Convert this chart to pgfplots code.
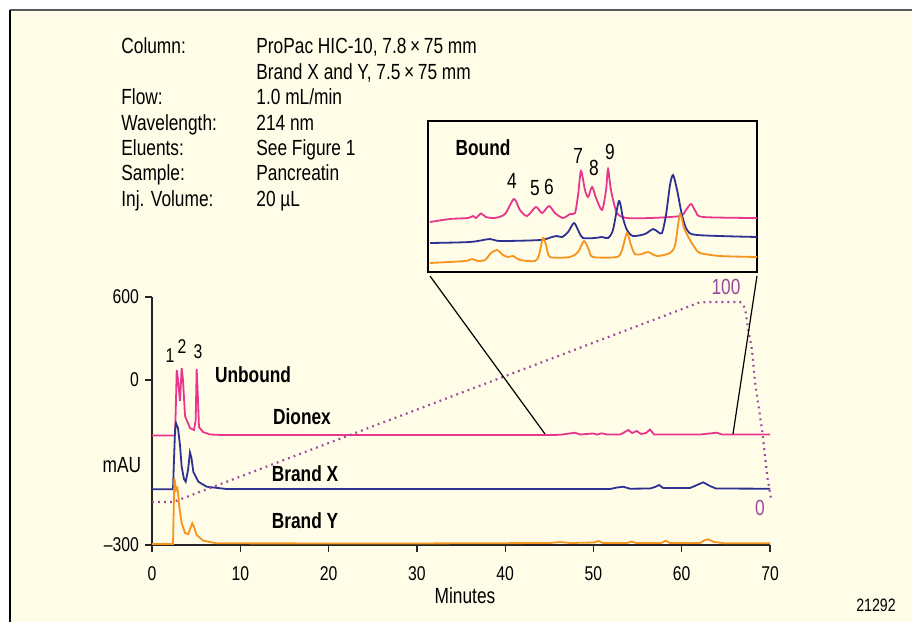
\documentclass[border=0pt]{standalone}
\usepackage{fontspec}
\setmainfont{Liberation Sans}[FakeStretch=0.79]
\usepackage{pgfplots}
\pgfplotsset{compat=1.18}
\definecolor{cream}{HTML}{FFFDE8}
\definecolor{dpink}{HTML}{E8368C}
\definecolor{dblue}{HTML}{2E3192}
\definecolor{dorange}{HTML}{F7941D}
\definecolor{dpurple}{HTML}{9B4A9E}
\newcommand\fs[1]{\fontsize{#1}{#1}\selectfont}
\begin{document}
\begin{tikzpicture}
\begin{scope}[x=0.5bp,y=-0.5bp]
\useasboundingbox (0,0) rectangle (912,622);
\fill[white] (0,0) rectangle (912,622);
\fill[cream] (10,10) rectangle (912,622);
\draw[black!65, line width=1bp] (10,10) -- (912,10);
\draw[black, line width=1bp] (10,10) -- (10,622);
\begin{scope}[every node/.style={inner sep=0pt, anchor=base west, font=\fs{11}}]
\node at (121,54) {Column:};
\node at (256,54) {ProPac HIC-10, 7.8\,×\,75 mm};
\node at (256,80) {Brand X and Y, 7.5\,×\,75 mm};
\node at (121,105) {Flow:};
\node at (256,105) {1.0 mL/min};
\node at (121,130.7) {Wavelength:};
\node at (256,130.7) {214 nm};
\node at (121,155.7) {Eluents:};
\node at (256,155.7) {See Figure 1};
\node at (121,181) {Sample:};
\node at (256,181) {Pancreatin};
\node at (121,206.7) {Inj. Volume:};
\node at (256,206.7) {20 µL};
\end{scope}
\node[font=\fs{9}, inner sep=0pt] at (876,605) {21292};
\end{scope}

% main chromatogram
\begin{axis}[
  at={(76bp,-272.5bp)}, anchor=south west,
  x=4.41429bp, y=0.5bp,
  xmin=0, xmax=70, ymin=0, ymax=248,
  axis x line*=bottom, axis y line*=left,
  axis line style={line width=0.65bp, black!85},
  tick style={line width=0.65bp, black!85},
  major tick length=3.5bp, tick align=outside,
  xtick={0,10,...,70},
  ytick={0,165,248}, yticklabels={–300,0,600},
  /pgf/number format/assume math mode=true,
  ticklabel style={font=\fs{10}},
  xticklabel style={yshift=-4bp},
  yticklabel style={xshift=0.5bp},
  clip=false,
  xlabel={Minutes},
  xlabel style={font=\fs{11}, at={(axis description cs:0.5,0)}, anchor=base, yshift=-29bp, xshift=2bp},
]
% Dionex
\addplot[dpink, line width=0.9bp] coordinates {
(0,109.5) (2.61,109.5) (2.72,145) (2.80,175) (2.95,165) (3.17,144) (3.36,177) (3.51,165)
(3.74,129) (4.30,117) (4.76,115) (4.95,125) (5.06,176) (5.21,145) (5.32,118) (5.78,113)
(6.57,110.5) (8.04,110) (44.5,110) (46.21,110.2) (47.91,112.3) (48.48,110.5) (49.95,111.5)
(50.41,110.5) (50.94,111.7) (51.54,110.5) (53.01,110.5) (53.57,113) (53.95,115) (54.37,112)
(54.90,114) (55.39,111) (55.95,112) (56.41,115.5) (56.86,110.5) (62.07,110.5) (63.96,112.3)
(64.56,110.5) (70,110.5)};
% Brand X
\addplot[dblue, line width=0.9bp] coordinates {
(0,55.7) (2.38,55.7) (2.49,85) (2.61,115) (2.72,121.7) (2.94,117) (3.17,100) (3.36,78.3)
(3.62,66) (3.82,63.3) (4.08,75) (4.30,92.7) (4.47,87) (4.68,73.3) (5.24,63.3) (6.20,58.3)
(8.46,56) (28.09,56) (51.88,56) (52.67,57.5) (53.38,58.3) (54.14,56.3) (56.41,56.5)
(56.98,58) (57.43,60) (57.89,57) (60.94,57) (61.73,60) (62.44,62.7) (63.20,59) (63.88,56.5)
(70,56.3)};
% Brand Y
\addplot[dorange, line width=0.9bp] coordinates {
(0,1) (2.38,1) (2.46,35) (2.53,66.7) (2.64,61) (2.72,55) (2.87,57) (2.98,50) (3.09,38.3)
(3.36,22) (3.74,12) (4.11,11) (4.36,17) (4.56,21.7) (4.76,18) (5.06,10) (5.81,4.3)
(7.33,1.7) (28.09,1.5) (45.08,2) (46.21,3) (47.35,2) (50.06,2.5) (50.55,4) (51.08,2)
(53.80,2) (54.33,3.5) (54.82,2) (57.65,2) (58.18,4.3) (58.67,2) (62.07,2) (62.64,5)
(63.01,5.7) (63.66,3) (64.90,1.7) (70,1.7)};
% gradient
\addplot[dpurple, line width=1.1bp, dash pattern=on 0.9bp off 2.1bp] coordinates {
(0,43) (2.4,43) (60.8,238.5) (61.8,242) (62.8,243) (66.6,243) (67.0,240) (67.2,235)
(67.5,217) (67.96,195) (68.3,163) (69.1,115) (69.7,68) (70.1,47)};
\node[font=\fs{10}] at (axis cs:2.04,189) {1};
\node[font=\fs{10}] at (axis cs:3.40,198) {2};
\node[font=\fs{10}] at (axis cs:5.21,193) {3};
\node[font=\fs{11}\bfseries] at (axis cs:11.44,170) {Unbound};
\node[font=\fs{11}\bfseries] at (axis cs:16.99,128) {Dionex};
\node[font=\fs{11}\bfseries] at (axis cs:17.33,71) {Brand X};
\node[font=\fs{11}\bfseries] at (axis cs:17.33,24) {Brand Y};
\node[font=\fs{11}] at (axis cs:-3.40,80) {mAU};
\node[font=\fs{11}, text=dpurple] at (axis cs:65.01,258) {100};
\node[font=\fs{11}, text=dpurple] at (axis cs:68.86,37) {0};
\end{axis}

% inset
\begin{axis}[
  at={(214bp,-136bp)}, anchor=south west,
  x=7.6869bp, y=0.5bp,
  xmin=44.4, xmax=65.8, ymin=0, ymax=151,
  xtick=\empty, ytick=\empty,
  axis line style={line width=0.65bp, black},
  clip=false,
  every axis plot/.append style={smooth, tension=0.45, line width=0.9bp},
]
\addplot[dpink] coordinates {
(44.53,50) (45.83,53) (47.0,54) (47.33,56) (47.52,54) (47.85,58.5) (48.17,55) (48.76,54)
(49.41,58) (49.99,73) (50.38,62) (50.84,56) (51.42,65) (51.82,59) (52.27,66) (52.66,59)
(53.18,54) (53.64,58) (53.96,59) (54.16,77) (54.35,101) (54.61,82) (54.81,75) (55.07,85)
(55.33,74) (55.72,62) (55.98,82) (56.11,103) (56.30,82) (56.69,59) (57.34,54) (58.84,54)
(60.79,56) (61.18,62) (61.51,68) (61.83,60) (62.29,55) (65.80,54)};
\addplot[dblue] coordinates {
(44.53,29) (47.13,30) (48.43,33) (49.08,31) (51.69,32) (52.47,35) (52.79,36) (53.12,35)
(53.51,40) (53.90,49) (54.22,40) (54.48,34) (55.26,34) (55.72,35) (56.11,34) (56.43,42)
(56.82,71) (57.08,54) (57.34,42) (57.73,36) (58.51,38) (59.04,43) (59.36,40) (59.62,39)
(59.88,57) (60.14,87) (60.34,97) (60.60,82) (60.92,57) (61.25,42) (61.90,37) (65.80,35)};
\addplot[dorange] coordinates {
(44.53,9) (46.81,11) (47.26,13) (47.65,11) (48.11,12) (48.50,19) (48.89,22) (49.28,17)
(49.60,15) (49.93,16) (50.38,12) (51.36,11) (51.62,17) (51.88,34) (52.08,27) (52.34,15)
(53.64,15) (54.16,20) (54.55,31) (54.87,22) (55.13,15) (56.69,15) (57.02,22) (57.34,39)
(57.60,27) (57.86,18) (58.32,18) (58.71,20) (59.30,16) (60.14,19) (60.47,27) (60.79,58)
(61.05,44) (61.44,32) (61.77,24) (62.09,19) (63.39,16) (65.80,15)};
\node[font=\fs{11}\bfseries] at (axis cs:47.98,124) {Bound};
\node[font=\fs{11}] at (axis cs:49.86,91) {4};
\node[font=\fs{11}] at (axis cs:51.36,84) {5};
\node[font=\fs{11}] at (axis cs:52.27,85) {6};
\node[font=\fs{11}] at (axis cs:54.16,116) {7};
\node[font=\fs{11}] at (axis cs:55.20,104) {8};
\node[font=\fs{11}] at (axis cs:56.24,120) {9};
\end{axis}

\begin{scope}[x=0.5bp,y=-0.5bp]
\draw[black, line width=0.6bp] (430,276) -- (545,434);
\draw[black, line width=0.6bp] (757,276) -- (733,434);
\end{scope}
\end{tikzpicture}
\end{document}
